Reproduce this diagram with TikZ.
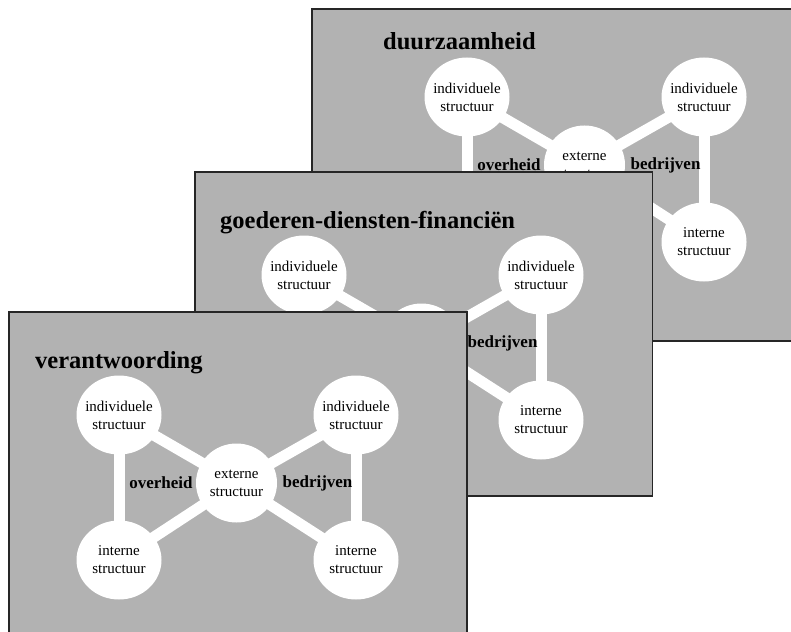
\documentclass[tikz,border=0pt]{standalone}
\usepackage{fontspec}
\setmainfont{Liberation Serif}
\usetikzlibrary{shapes.geometric}
\definecolor{panelgray}{RGB}{178,178,178}
\definecolor{framegray}{RGB}{38,38,38}
\tikzset{
  panel/.style={fill=panelgray, draw=framegray, line width=1.3pt},
  blob/.style={ellipse, fill=white, inner xsep=-6pt, inner ysep=0pt,
    minimum width=85pt, minimum height=79pt, align=center,
    font=\fontsize{15}{18}\selectfont},
  hub/.style={blob, minimum width=81pt},
  bar/.style={draw=white, line width=11pt, shorten <=-2pt, shorten >=-2pt},
  sector/.style={font=\fontsize{17}{20}\selectfont\bfseries, inner sep=0pt},
  heading/.style={font=\fontsize{24.5}{29}\selectfont\bfseries, inner sep=0pt,
    anchor=base west},
}
% one network: #1 = name prefix, #2 = heading; origin = upper left circle
\newcommand\netpanel[2]{%
  \node[heading] (#1title) at (-84,-47) {#2};
  \node[blob] (#1il) at (0,0) {individuele\\structuur};
  \node[blob] (#1ir) at (237,0) {individuele\\structuur};
  \node[hub]  (#1ex) at (117.5,68) {externe\\structuur};
  \node[blob] (#1nl) at (0,145) {interne\\structuur};
  \node[blob] (#1nr) at (237,145) {interne\\structuur};
  \draw[bar] (#1il) -- (#1ex);
  \draw[bar] (#1ex) -- (#1nl);
  \draw[bar] (#1il) -- (#1nl);
  \draw[bar] (#1ir) -- (#1ex);
  \draw[bar] (#1ex) -- (#1nr);
  \draw[bar] (#1ir) -- (#1nr);
  \node[sector] (#1gov) at (42,68) {overheid};
  \node[sector] (#1biz) at (198.5,68) {bedrijven};
}
\begin{document}
\begin{tikzpicture}[x=1pt, y=-1pt]
  \useasboundingbox (0,0) rectangle (791,631);
  \clip (0,0) rectangle (791,631);

  % back sheet
  \draw[panel] (312,9) rectangle (840,341);
  \begin{scope}[shift={(467,97)}]
    \netpanel{c}{duurzaamheid}
  \end{scope}

  % middle sheet
  \draw[panel] (195,172) rectangle (652.5,496);
  \begin{scope}[shift={(304,275)}]
    \netpanel{b}{goederen-diensten-financiën}
  \end{scope}

  % front sheet
  \draw[panel] (9,312) rectangle (467,660);
  \begin{scope}[shift={(119,415)}]
    \netpanel{a}{verantwoording}
  \end{scope}
\end{tikzpicture}
\end{document}
